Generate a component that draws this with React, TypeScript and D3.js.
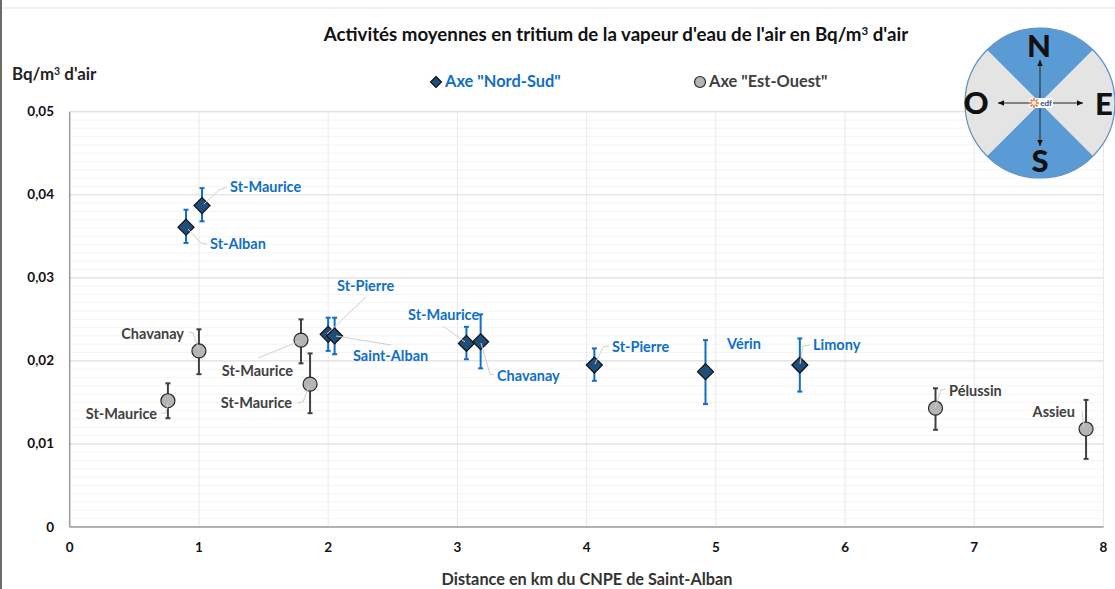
import React from "react";
import * as d3 from "d3";

const nsLabels = ["St-Maurice", "St-Alban", "St-Pierre", "Saint-Alban", "St-Maurice", "Chavanay", "St-Pierre", "Vérin", "Limony"];
const nsX = [1.024, 0.9, 2.0, 2.05, 3.07, 3.18, 4.06, 4.92, 5.65];
const nsY = [0.0387, 0.0361, 0.0232, 0.023, 0.0221, 0.0223, 0.0195, 0.0187, 0.0195];
const nsHigh = [0.0408, 0.0382, 0.0252, 0.0252, 0.0241, 0.0256, 0.0215, 0.0225, 0.0227];
const nsLow = [0.0368, 0.0342, 0.0212, 0.0208, 0.0202, 0.0191, 0.0176, 0.0148, 0.0163];

const eoLabels = ["St-Maurice", "Chavanay", "St-Maurice", "St-Maurice", "Pélussin", "Assieu"];
const eoX = [0.76, 1.0, 1.79, 1.86, 6.7, 7.865];
const eoY = [0.0152, 0.0212, 0.0225, 0.0172, 0.0143, 0.0118];
const eoHigh = [0.0173, 0.0238, 0.025, 0.0209, 0.0167, 0.0153];
const eoLow = [0.0131, 0.0184, 0.0197, 0.0137, 0.0117, 0.0082];

const xTicks = [0, 1, 2, 3, 4, 5, 6, 7, 8];
const yTicks = [0, 0.01, 0.02, 0.03, 0.04, 0.05];
const yMinorTicks = d3.range(0, 51).map((i) => i / 1000);

// label placement in pixels: text anchor x, baseline y, text-anchor, leader polyline
type L = { x: number; y: number; a: "start" | "end"; line: [number, number][] };
const nsLayout: L[] = [
  { x: 230, y: 192, a: "start", line: [[204, 204], [219, 190], [227, 187]] },
  { x: 210, y: 249, a: "start", line: [[188, 229], [201, 243], [207, 244]] },
  { x: 337, y: 291, a: "start", line: [[327, 334], [366, 297]] },
  { x: 353, y: 361, a: "start", line: [[336, 336], [391, 345]] },
  { x: 408, y: 320, a: "start", line: [[465, 342], [443, 326]] },
  { x: 497, y: 381, a: "start", line: [[481, 343], [490, 374], [494, 375]] },
  { x: 612, y: 352, a: "start", line: [[595, 364], [603, 347], [609, 346]] },
  { x: 727, y: 349, a: "start", line: [] },
  { x: 813, y: 350, a: "start", line: [[800, 364], [803, 346], [810, 345]] },
];
const eoLayout: L[] = [
  { x: 157, y: 419, a: "end", line: [[168, 403], [166, 413], [161, 413]] },
  { x: 184, y: 339, a: "end", line: [[199, 350], [193, 333], [189, 332]] },
  { x: 293, y: 376, a: "end", line: [[300, 341], [258, 358]] },
  { x: 292, y: 408, a: "end", line: [[309, 386], [303, 402], [297, 403]] },
  { x: 949, y: 396, a: "start", line: [[935, 408], [941, 390], [946, 389]] },
  { x: 1075, y: 417, a: "end", line: [[1084, 427], [1082, 411]] },
];

const W = 1115, H = 589;
const x = d3.scaleLinear().domain([0, 8]).range([69.7, 1103.5]);
const y = d3.scaleLinear().domain([0, 0.05]).range([527, 111.7]);
const fr = d3.format(".2f");
const yFmt = (v: number) => (v === 0 ? "0" : fr(v).replace(".", ","));
const line = d3.line();
const FONT = "Lato, Carlito, sans-serif";
const BLUE = "#0f6fc6";
const GREYT = "#404040";

const cx = 1040, cy = 103, R = 75;
const wedge = d3.arc();
const sectors = [
  { s: -Math.PI / 4, fill: "#5b9bd5" },
  { s: Math.PI / 4, fill: "#e4e4e4" },
  { s: (3 * Math.PI) / 4, fill: "#5b9bd5" },
  { s: (5 * Math.PI) / 4, fill: "#e4e4e4" },
];
const rayAngles = d3.range(0, 8).map((i) => (i * Math.PI) / 4);

function Arrow({ x2, y2 }: { x2: number; y2: number }) {
  const ang = Math.atan2(y2 - cy, x2 - cx);
  const p = (d: number, o: number) => [x2 - d * Math.cos(ang) - o * Math.sin(ang), y2 - d * Math.sin(ang) + o * Math.cos(ang)];
  const a = p(6, 2.8), b = p(6, -2.8);
  return (
    <g>
      <line x1={cx} y1={cy} x2={x2} y2={y2} stroke="#222" strokeWidth={1} />
      <path d={`M${x2},${y2}L${a[0]},${a[1]}L${b[0]},${b[1]}Z`} fill="#111" />
    </g>
  );
}

function Series({ xs, ys, hi, lo, labels, layout, color, textColor, marker }: any) {
  return (
    <g>
      {labels.map((_: string, i: number) => (
        <g key={i}>
          <line x1={x(xs[i])} x2={x(xs[i])} y1={y(hi[i])} y2={y(lo[i])} stroke={color} strokeWidth={2} />
          <line x1={x(xs[i]) - 2.5} x2={x(xs[i]) + 2.5} y1={y(hi[i])} y2={y(hi[i])} stroke={color} strokeWidth={2} />
          <line x1={x(xs[i]) - 2.5} x2={x(xs[i]) + 2.5} y1={y(lo[i])} y2={y(lo[i])} stroke={color} strokeWidth={2} />
        </g>
      ))}
      {labels.map((_: string, i: number) => (
        <g key={i}>{marker(x(xs[i]), y(ys[i]))}</g>
      ))}
      {labels.map((t: string, i: number) => (
        <g key={i}>
          {layout[i].line.length > 0 && <path d={line(layout[i].line) ?? ""} fill="none" stroke="#cfcfcf" strokeWidth={1} />}
          <text x={layout[i].x} y={layout[i].y} textAnchor={layout[i].a} fontSize={14.5} fontWeight={700} fill={textColor}>{t}</text>
        </g>
      ))}
    </g>
  );
}

const diamond = (px: number, py: number, r = 8) => (
  <path d={`M${px},${py - r}L${px + r},${py}L${px},${py + r}L${px - r},${py}Z`} fill="#1f4e79" stroke="#111" strokeWidth={1.2} />
);
const circle = (px: number, py: number, r = 7) => (
  <circle cx={px} cy={py} r={r} fill="#b5b5b5" stroke="#262626" strokeWidth={1.2} />
);

export default function App() {
  return (
    <svg width={W} height={H} style={{ position: "absolute", left: 0, top: 0, display: "block" }} fontFamily={FONT}>
      <rect width={W} height={H} fill="#fff" />
      <rect x={0} y={0} width={2} height={H} fill="#6b6b6b" />
      <line x1={2} x2={W} y1={8} y2={8} stroke="#e4e4e4" strokeWidth={1} />

      {yMinorTicks.map((t) => (
        <line key={t} x1={x(0)} x2={x(8)} y1={y(t)} y2={y(t)} stroke="#f4f4f4" strokeWidth={1} />
      ))}
      {xTicks.slice(1).map((t) => (
        <line key={t} x1={x(t)} x2={x(t)} y1={y(0.05)} y2={y(0)} stroke="#e8e8e8" strokeWidth={1} />
      ))}
      {yTicks.slice(1).map((t) => (
        <line key={t} x1={x(0)} x2={x(8)} y1={y(t)} y2={y(t)} stroke="#e0e0e0" strokeWidth={1.2} />
      ))}
      <line x1={x(0)} x2={x(0)} y1={y(0.05)} y2={y(0)} stroke="#9a9a9a" strokeWidth={1.5} />
      <line x1={x(0)} x2={x(8)} y1={y(0)} y2={y(0)} stroke="#9a9a9a" strokeWidth={1.5} />

      {yTicks.map((t) => (
        <text key={t} x={54} y={y(t) + 4.5} textAnchor="end" fontSize={13.5} fontWeight={700} fill="#111">{yFmt(t)}</text>
      ))}
      {xTicks.map((t) => (
        <text key={t} x={x(t)} y={552} textAnchor="middle" fontSize={13.5} fontWeight={700} fill="#111">{t}</text>
      ))}

      <text x={616} y={41} textAnchor="middle" fontSize={18.7} fontWeight={700} fill="#111">
        Activités moyennes en tritium de la vapeur d'eau de l'air en Bq/m<tspan fontSize={11.5} dy={-6}>3</tspan><tspan dy={6}> d'air</tspan>
      </text>
      <text x={12} y={80} fontSize={16.9} fontWeight={700} fill="#222">
        Bq/m<tspan fontSize={10.5} dy={-5}>3</tspan><tspan dy={5}> d'air</tspan>
      </text>
      <text x={587} y={585} textAnchor="middle" fontSize={16.3} fontWeight={700} fill="#333">Distance en km du CNPE de Saint-Alban</text>

      {diamond(436, 82, 5.5)}
      <text x={445} y={87} fontSize={16.4} fontWeight={700} fill={BLUE}>Axe "Nord-Sud"</text>
      {circle(700, 82, 5.5)}
      <text x={709} y={87} fontSize={16.4} fontWeight={700} fill={GREYT}>Axe "Est-Ouest"</text>

      <Series xs={eoX} ys={eoY} hi={eoHigh} lo={eoLow} labels={eoLabels} layout={eoLayout} color="#404040" textColor={GREYT} marker={circle} />
      <Series xs={nsX} ys={nsY} hi={nsHigh} lo={nsLow} labels={nsLabels} layout={nsLayout} color={BLUE} textColor={BLUE} marker={diamond} />

      <g>
        {sectors.map((s, i) => (
          <path key={i} transform={`translate(${cx},${cy})`} fill={s.fill}
            d={wedge({ innerRadius: 0, outerRadius: R, startAngle: s.s, endAngle: s.s + Math.PI / 2 }) ?? ""} />
        ))}
        <circle cx={cx} cy={cy} r={R} fill="none" stroke="#5f8fc0" strokeWidth={1.2} />
        <Arrow x2={cx} y2={60} />
        <Arrow x2={cx} y2={146} />
        <Arrow x2={998} y2={cy} />
        <Arrow x2={1083} y2={cy} />
        <rect x={1029} y={98} width={24} height={10} fill="#fff" rx={2} />
        {rayAngles.map((a, i) => (
          <line key={i} x1={1034 + 2 * Math.cos(a)} y1={103 + 2 * Math.sin(a)} x2={1034 + 5 * Math.cos(a)} y2={103 + 5 * Math.sin(a)} stroke="#f0662a" strokeWidth={1.5} />
        ))}
        <text x={1046} y={106} fontSize={8} fontWeight={700} fill="#2b4f81" textAnchor="middle">edf</text>
        <g fontSize={31} fontWeight={900} fill="#111" textAnchor="middle">
          <text x={1039} y={57}>N</text>
          <text x={1040} y={172}>S</text>
          <text x={976} y={114}>O</text>
          <text x={1104} y={115}>E</text>
        </g>
      </g>
    </svg>
  );
}
